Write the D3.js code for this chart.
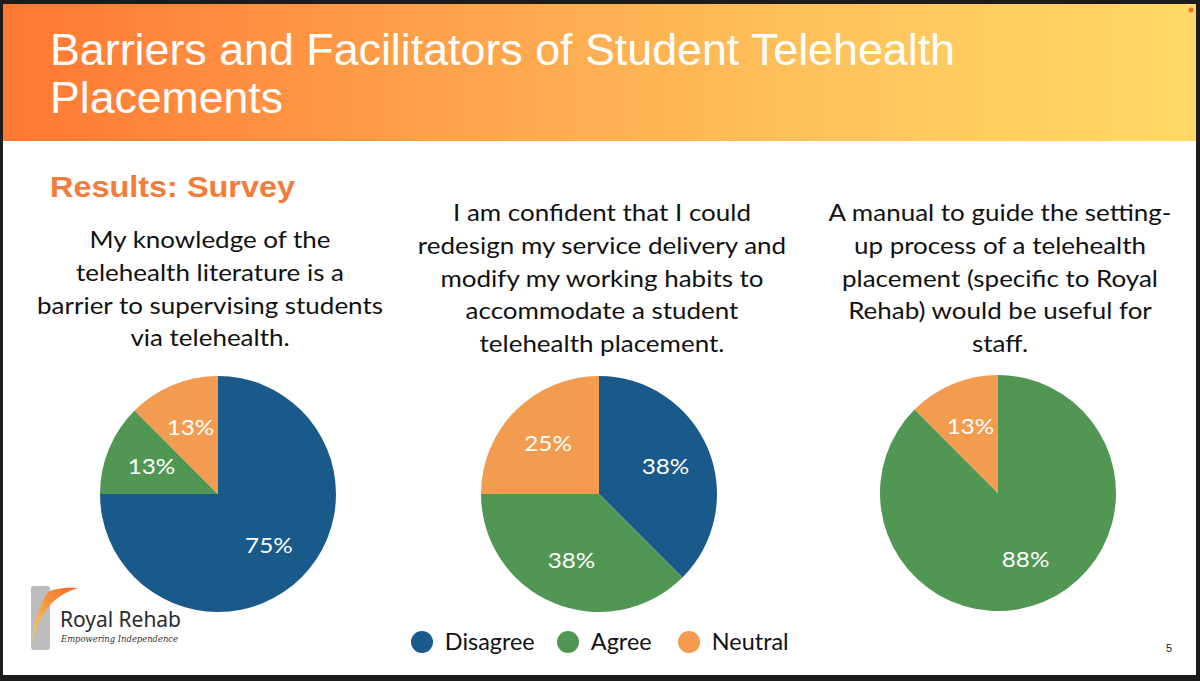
<!DOCTYPE html>
<html>
<head>
<meta charset="utf-8">
<script src="https://cdn.jsdelivr.net/npm/d3@7"></script>
<style>
  body { margin: 0; background: #1c1c1c; }
  svg { display: block; }
</style>
</head>
<body>
<div id="chart"></div>
<script>
"use strict";

// survey answers, share of respondents (n = 8)
var categories = ["Disagree", "Agree", "Neutral"];
var disagree = [75, 37.5, 0];
var agree    = [12.5, 37.5, 87.5];
var neutral  = [12.5, 25, 12.5];
var questions = [
  ["My knowledge of the", "telehealth literature is a", "barrier to supervising students", "via telehealth."],
  ["I am confident that I could", "redesign my service delivery and", "modify my working habits to", "accommodate a student", "telehealth placement."],
  ["A manual to guide the setting-", "up process of a telehealth", "placement (specific to Royal", "Rehab) would be useful for", "staff."]
];
var titleLines = ["Barriers and Facilitators of Student Telehealth", "Placements"];

var W = 1200, H = 681;
var svg = d3.select("#chart").append("svg")
  .attr("width", W).attr("height", H);

var defs = svg.append("defs");
var hg = defs.append("linearGradient").attr("id", "hdr").attr("x1", 0).attr("x2", 1).attr("y1", 0).attr("y2", 0);
hg.append("stop").attr("offset", 0).attr("stop-color", "#ff7833");
hg.append("stop").attr("offset", 0.35).attr("stop-color", "#ffa04a");
hg.append("stop").attr("offset", 0.7).attr("stop-color", "#ffc45c");
hg.append("stop").attr("offset", 1).attr("stop-color", "#ffd966");

var lg = defs.append("linearGradient").attr("id", "swoosh").attr("x1", 1).attr("x2", 0).attr("y1", 0).attr("y2", 1);
lg.append("stop").attr("offset", 0).attr("stop-color", "#f26a2a");
lg.append("stop").attr("offset", 0.45).attr("stop-color", "#f7923a");
lg.append("stop").attr("offset", 1).attr("stop-color", "#fdd650");

// slide area
svg.append("rect").attr("x", 3).attr("y", 4).attr("width", 1193).attr("height", 671).attr("fill", "#ffffff");
svg.append("rect").attr("x", 3).attr("y", 4).attr("width", 1193).attr("height", 137).attr("fill", "url(#hdr)");
svg.append("circle").attr("cx", 1191).attr("cy", 10).attr("r", 2.5).attr("fill", "#f0702e");

var title = svg.append("g");
title.selectAll("text").data(titleLines).join("text")
  .attr("x", 50)
  .attr("y", function(d, i) { return 65 + i * 48; })
  .attr("textLength", function(d, i) { return i === 0 ? 905 : 233; })
  .attr("lengthAdjust", "spacingAndGlyphs")
  .style("font-family", "'Liberation Sans', Arial, sans-serif")
  .style("font-size", "44px")
  .attr("fill", "#ffffff")
  .text(function(d) { return d; });

svg.append("text")
  .attr("x", 50).attr("y", 197)
  .attr("textLength", 245).attr("lengthAdjust", "spacingAndGlyphs")
  .style("font-family", "'Liberation Sans', Arial, sans-serif")
  .style("font-size", "29px").style("font-weight", "bold")
  .attr("fill", "#f47b3a")
  .text("Results: Survey");

// one pie per question
var color = d3.scaleOrdinal().domain(categories).range(["#1a5a8b", "#519653", "#f39b4e"]);
var cx = [218, 599, 998], cy = [494, 494, 493];
var textX = [210, 602, 1000], textTop = [248, 221, 221];
var radius = 118;
var wide = 1.13; // body font in the slide is wider than Lato

var pie = d3.pie().sort(null).value(function(d) { return d.value; });
var arc = d3.arc().innerRadius(0).outerRadius(radius);
var labelArc = d3.arc().innerRadius(radius * 0.61).outerRadius(radius * 0.61);

questions.forEach(function(q, i) {
  var rows = categories.map(function(c, k) {
    return { key: c, value: [disagree, agree, neutral][k][i] };
  });

  svg.append("g")
    .attr("transform", "translate(" + textX[i] + ",0) scale(" + wide + ",1)")
    .selectAll("text").data(q).join("text")
    .attr("x", 0)
    .attr("y", function(d, j) { return textTop[i] + j * 32.8; })
    .attr("text-anchor", "middle")
    .style("font-family", "Lato, 'Noto Sans', sans-serif")
    .style("font-size", "23px")
    .attr("fill", "#111111")
    .text(function(d) { return d; });

  var g = svg.append("g").attr("transform", "translate(" + cx[i] + "," + cy[i] + ")");
  var arcs = pie(rows).filter(function(d) { return d.data.value > 0; });
  g.selectAll("path").data(arcs).join("path")
    .attr("d", arc)
    .attr("fill", function(d) { return color(d.data.key); });
  g.selectAll("text").data(arcs).join("text")
    .attr("transform", function(d) { return "translate(" + labelArc.centroid(d) + ") scale(" + wide + ",1)"; })
    .attr("text-anchor", "middle")
    .attr("dy", "0.36em")
    .style("font-family", "Lato, 'Noto Sans', sans-serif")
    .style("font-size", "21.5px")
    .attr("fill", "#ffffff")
    .text(function(d) { return Math.round(d.data.value) + "%"; });
});

// legend
var legendX = [422, 568, 689];
var legend = svg.append("g").selectAll("g").data(categories).join("g")
  .attr("transform", function(d, i) { return "translate(" + legendX[i] + ",642)"; });
legend.append("circle").attr("r", 11).attr("fill", function(d) { return color(d); });
legend.append("text")
  .attr("x", 22).attr("y", 8)
  .attr("transform", "scale(1.04,1)")
  .style("font-family", "Lato, 'Noto Sans', sans-serif")
  .style("font-size", "22.5px")
  .attr("fill", "#111111")
  .text(function(d) { return d; });

// logo
var logo = svg.append("g");
logo.append("rect").attr("x", 31).attr("y", 586).attr("width", 19).attr("height", 64).attr("rx", 3).attr("fill", "#bcbcbc");
logo.append("path")
  .attr("d", "M78,588 C64,587 54,589 48,592 C40,605 34,620 32,644 C38,616 50,597 78,588 Z")
  .attr("fill", "url(#swoosh)");
logo.append("text").attr("x", 60).attr("y", 627)
  .style("font-family", "'Noto Sans', sans-serif").style("font-size", "21px")
  .attr("fill", "#2a2a2a").attr("textLength", 121).attr("lengthAdjust", "spacingAndGlyphs")
  .text("Royal Rehab");
logo.append("text").attr("x", 61).attr("y", 642)
  .style("font-family", "'DejaVu Serif', serif").style("font-size", "10px").style("font-style", "italic")
  .attr("fill", "#333333").attr("textLength", 117).attr("lengthAdjust", "spacingAndGlyphs")
  .text("Empowering Independence");

svg.append("text").attr("x", 1169).attr("y", 652).attr("text-anchor", "middle")
  .style("font-family", "'Liberation Sans', Arial, sans-serif").style("font-size", "11px")
  .attr("fill", "#222222").text("5");
</script>
</body>
</html>
